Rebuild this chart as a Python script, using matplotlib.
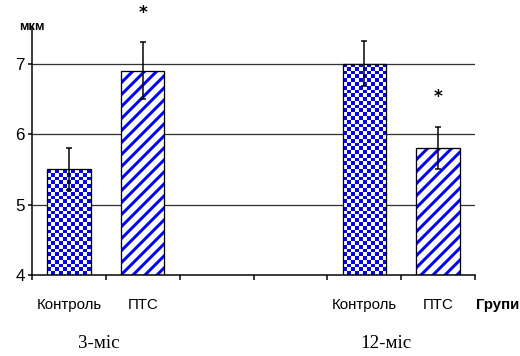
import numpy as np
import matplotlib
matplotlib.use('Agg')
import matplotlib.pyplot as plt

# data
categories = ['Контроль', 'ПТС', '', '', 'Контроль', 'ПТС']
values = [5.5, 6.9, None, None, 7.0, 5.8]
errors = [0.3, 0.4, None, None, 0.32, 0.3]
styles = ['checker', 'stripes', None, None, 'checker', 'stripes']
stars = [False, True, False, False, False, True]
groups = ['3-міс', '12-міс']
yticks = [4, 5, 6, 7]

DPI = 72
plt.rcParams['hatch.linewidth'] = 3.0
fig = plt.figure(figsize=(520 / DPI, 356 / DPI), dpi=DPI)
ax = fig.add_axes([32 / 520, 1 - 275 / 356, (475 - 32) / 520, (275 - 27) / 356])
ax.set_xlim(0, 6)
ax.set_ylim(4, 7.52)

for y in [5, 6, 7]:
    ax.axhline(y, color='#333333', lw=1.3, zorder=1)

blue = '#0000ff'
width = 0.585
cell_px = 3.8
px_x = 6 / (475 - 32)
px_y = 3.52 / (275 - 27)
for i, (v, e, st) in enumerate(zip(values, errors, styles)):
    if v is None:
        continue
    x = i + 0.5
    x0 = x - width / 2
    if st == 'checker':
        b = ax.bar(x, v - 4, width, bottom=4, color='white', lw=0, zorder=2)[0]
        nx = int(round(width / (cell_px * px_x)))
        ny = int(round((v - 4) / (cell_px * px_y)))
        img = (np.indices((ny, nx)).sum(axis=0) % 2)
        im = ax.imshow(img, cmap=matplotlib.colors.ListedColormap(['white', blue]),
                       extent=(x0, x0 + width, 4, v), origin='lower',
                       interpolation='nearest', aspect='auto', zorder=2.5)
        im.set_clip_path(b)
    else:
        ax.bar(x, v - 4, width, bottom=4, color='white', edgecolor=blue,
               hatch='//', lw=0, zorder=2)
    ax.bar(x, v - 4, width, bottom=4, fill=False, edgecolor='black', lw=1.3, zorder=3)
    ax.errorbar(x, v, yerr=e, fmt='none', ecolor='black', elinewidth=1.5,
                capsize=3, capthick=1.5, zorder=4)
    if stars[i]:
        ax.text(x, v + e + 0.42, '*', ha='center', va='center', fontsize=17,
                fontweight='bold', clip_on=False, zorder=5)

ax.set_aspect('auto')
ax.set_xlim(0, 6)
ax.set_ylim(4, 7.52)

for s in ['top', 'right']:
    ax.spines[s].set_visible(False)
for s in ['left', 'bottom']:
    ax.spines[s].set_linewidth(1.5)

ax.set_yticks(yticks)
ax.set_yticklabels([str(t) for t in yticks], fontsize=17, family=['Liberation Sans', 'DejaVu Sans'])
ax.tick_params(axis='y', length=4, width=1.5, pad=3)
ax.set_xticks(range(7))
ax.set_xticklabels([])
ax.tick_params(axis='x', length=5, width=1.5)

narrow = ['Liberation Sans Narrow', 'Liberation Sans', 'DejaVu Sans']
for i, c in enumerate(categories):
    if c:
        ax.text(i + 0.5, -0.12, c, transform=ax.get_xaxis_transform(), ha='center',
                va='center', fontsize=15, family=narrow, clip_on=False)
ax.text(6.3, -0.12, 'Групи', transform=ax.get_xaxis_transform(), ha='center',
        va='center', fontsize=15, family=narrow, fontweight='bold', clip_on=False)
ax.text(0.0, 1.0, 'мкм', transform=ax.transAxes, ha='center', va='center',
        fontsize=13, family=narrow, fontweight='bold', clip_on=False)

serif = ['Liberation Serif', 'DejaVu Serif']
ax.text(0.9, -0.275, groups[0], transform=ax.get_xaxis_transform(), ha='center',
        va='center', fontsize=19, family=serif, clip_on=False)
ax.text(4.8, -0.275, groups[1], transform=ax.get_xaxis_transform(), ha='center',
        va='center', fontsize=19, family=serif, clip_on=False)

fig.savefig('out.png', dpi=DPI)
